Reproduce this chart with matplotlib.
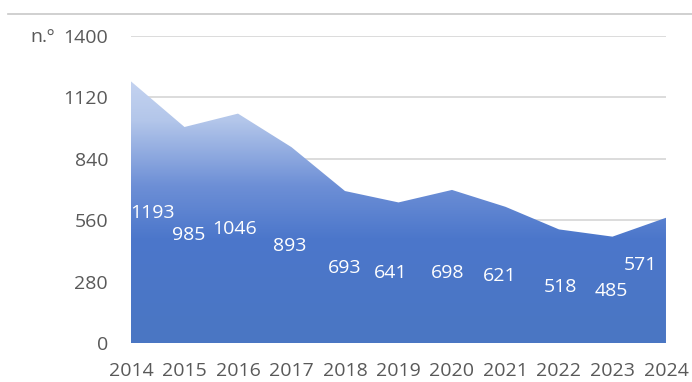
import matplotlib.pyplot as plt
import matplotlib.colors as mcolors
from matplotlib.lines import Line2D
import numpy as np

years = [2014, 2015, 2016, 2017, 2018, 2019, 2020, 2021, 2022, 2023, 2024]
values = [1193, 985, 1046, 893, 693, 641, 698, 621, 518, 485, 571]
y_ticks = [0, 280, 560, 840, 1120, 1400]

# label position tweaks (years, units) relative to (year, value/2)
label_dx = [0.41, 0.08, -0.06, -0.03, 0.0, -0.14, -0.09, -0.1, 0.02, -0.03, -0.47]
label_dy = [-4, 0, -3, -4, -4, -1, -30, -5, -4, -5, 70]

plt.rcParams['font.family'] = ['Open Sans', 'DejaVu Sans']

fig = plt.figure(figsize=(6.92, 3.82), dpi=100)
ax = fig.add_axes([0.1893, 0.1021, 0.7731, 0.8037])

ax.set_xlim(years[0], years[-1])
ax.set_ylim(0, 1400)

# gradient area
poly = ax.fill_between(years, values, 0, color='none', lw=0)
grad_cmap = mcolors.LinearSegmentedColormap.from_list(
    'g', [(0.0, '#4a76c3'), (0.4, '#4c77cb'), (0.6, '#6d8fd6'), (0.85, '#b3c6ea'), (1.0, '#c4d3f0')])
grad = np.linspace(0, 1, 256).reshape(-1, 1)
im = ax.imshow(grad, cmap=grad_cmap, aspect='auto', origin='lower',
               extent=[years[0], years[-1], 0, max(values)], zorder=2)
im.set_clip_path(poly.get_paths()[0], transform=ax.transData)

for t in y_ticks:
    ax.axhline(t, color='#d9d9d9', lw=1.3, zorder=1)

for i, (x, v) in enumerate(zip(years, values)):
    ax.text(x + label_dx[i], v / 2 + label_dy[i], str(v), color='white',
            fontsize=14, ha='center', va='center', zorder=3)

ax.set_yticks(y_ticks)
ax.set_xticks(years)
ax.tick_params(length=0, labelsize=14, colors='#595959')
ax.tick_params(axis='x', pad=14)
ax.tick_params(axis='y', pad=16.5)
for s in ax.spines.values():
    s.set_visible(False)

fig.text(0.0795, 0.8893, 'n.º', fontsize=14, color='#595959', ha='right', va='baseline')
fig.add_artist(Line2D([0.012, 1.0], [0.9625, 0.9625], color='#c8c8c8', lw=1.2))

fig.savefig('out.png', dpi=100)
